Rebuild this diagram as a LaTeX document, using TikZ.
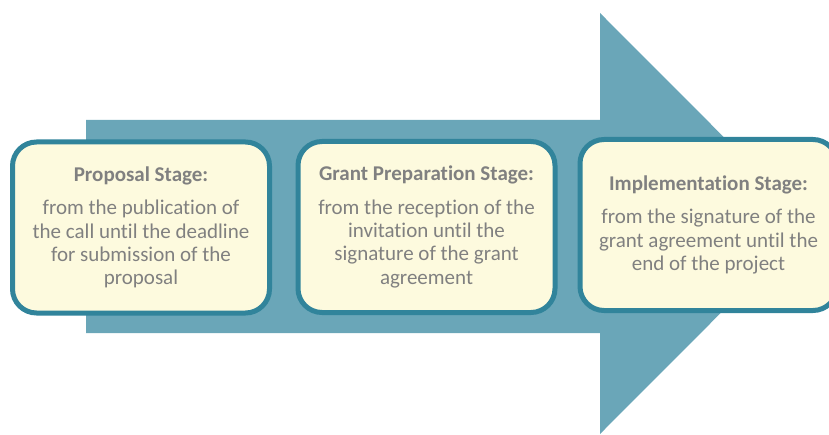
\documentclass[tikz,border=0pt]{standalone}
\usepackage{fontspec}
\setmainfont{Carlito}[Ligatures=CommonOff]
\definecolor{arrowteal}{RGB}{106,166,184}
\definecolor{edgeteal}{RGB}{49,132,155}
\definecolor{paleyellow}{RGB}{253,250,222}
\definecolor{textgray}{RGB}{128,128,128}

\begin{document}
\begin{tikzpicture}[x=1pt, y=1pt,
	stage/.style={draw=edgeteal, line width=5pt, fill=paleyellow, rounded corners=24pt,
		minimum width=257pt, minimum height=171pt, align=center, text=textgray,
		font=\fontsize{21}{23.3}\selectfont},
	]
	
	\useasboundingbox (0,0) rectangle (829,434);
	
	% big arrow behind the stages
	\fill[arrowteal] (86,101) coordinate (t1) -- (86,314) -- (600,314) -- (600,421)
		-- (810,210.5) coordinate (tip) -- (600,0) -- (600,101) -- cycle;
	
	\node[stage] (proposal) at (141,206.5) {\textbf{Proposal Stage:}\\[10pt]
		from the publication of\\the call until the deadline\\for submission of the\\proposal};
	
	\node[stage] (grant) at (426.5,207) {\textbf{Grant Preparation Stage:}\\[10pt]
		from the reception of the\\invitation until the\\signature of the grant\\agreement};
	
	\node[stage] (implementation) at (708.5,209) {\textbf{Implementation Stage:}\\[10pt]
		from the signature of the\\grant agreement until the\\end of the project};
	
\end{tikzpicture}
\end{document}
